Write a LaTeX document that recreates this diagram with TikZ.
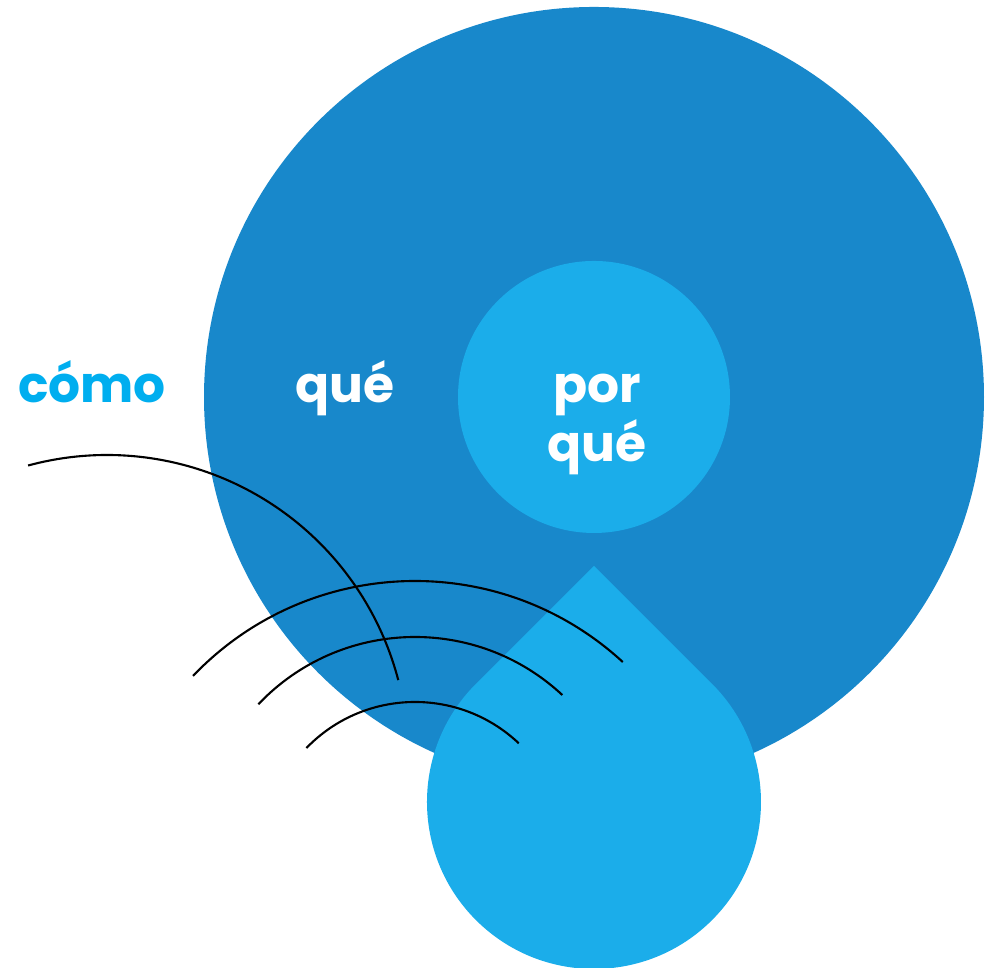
\documentclass[tikz,border=0pt]{standalone}
\usepackage{fontspec}
\setmainfont{Poppins}
\usepackage{tikz}
\usetikzlibrary{positioning}
\definecolor{deepblue}{HTML}{1888CB}
\definecolor{skyblue}{HTML}{1BADEA}
\definecolor{textblue}{HTML}{00AEEF}

\begin{document}
\begin{tikzpicture}[x=0.01cm,y=0.01cm]
\tikzstyle{word}=[font=\bfseries\fontsize{14.3}{17}\selectfont,inner sep=0pt,anchor=base]
\tikzstyle{wave}=[draw=black,line width=0.6pt]
\useasboundingbox (0,0) rectangle (1002,968);
% circles and drop
\fill[deepblue] (594,571) circle[radius=390];
\fill[skyblue] (594,402) -- (475.9,284.1) arc[start angle=135,end angle=405,radius=167] -- cycle;
\fill[skyblue] (594,571) circle[radius=136];
% waves
\draw[wave] (107,212) ++(105.2:301) arc[start angle=105.2,end angle=14.6,radius=301];
\draw[wave] (415,80) ++(136.3:307) arc[start angle=136.3,end angle=47.4,radius=307];
\draw[wave] (415,115) ++(136.5:216) arc[start angle=136.5,end angle=47,radius=216];
\draw[wave] (415,115) ++(136:151) arc[start angle=136,end angle=46.6,radius=151];
% labels
\node[word,text=textblue] (como) at (92,565) {cómo};
\node[word,text=white] (que) at (345,565) {qué};
\node[word,text=white] (por) at (597,565) {por};
\node[word,text=white] (porque) at (597,506) {qué};
\end{tikzpicture}
\end{document}
